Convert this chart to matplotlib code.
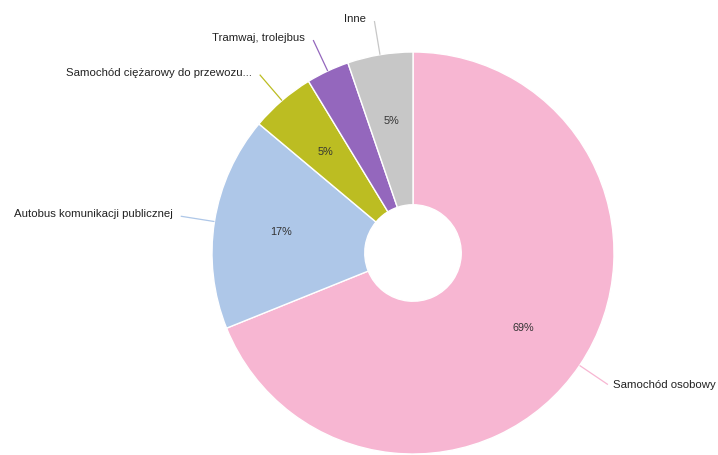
import numpy as np
import matplotlib
matplotlib.use("Agg")
import matplotlib.pyplot as plt

plt.rcParams['font.family'] = ['Liberation Sans', 'DejaVu Sans']

# Share of vehicle types (percent), clockwise from 12 o'clock
categories = [
    "Samochód osobowy",
    "Autobus komunikacji publicznej",
    "Samochód ciężarowy do przewozu...",
    "Tramwaj, trolejbus",
    "Inne",
]
values = [68.9, 17.2, 5.2, 3.45, 5.25]
colors = ["#f7b6d2", "#aec7e8", "#bcbd22", "#9467bd", "#c7c7c7"]

W, H = 718, 455
R_PX = 201.0
CX, CY = 413.0, 253.0

fig = plt.figure(figsize=(W / 100, H / 100), dpi=100)
ax = fig.add_axes([0, 0, 1, 1])


def pct_fmt(p):
    return f"{p:.0f}%" if p >= 4 else ""


wedges, _, autotexts = ax.pie(
    values,
    colors=colors,
    startangle=90,
    counterclock=False,
    radius=1.0,
    autopct=pct_fmt,
    pctdistance=0.665,
    wedgeprops=dict(width=0.76, edgecolor="white", linewidth=1.0),
    textprops=dict(fontsize=7.8, color="#333333"),
)

ax.set_aspect("auto")
ax.set_xlim(-CX / R_PX, (W - CX) / R_PX)
ax.set_ylim(-(H - CY) / R_PX, CY / R_PX)
ax.axis("off")

LABEL_FS = 8.2
LABEL_COLOR = "#222222"

# Leader lines and outer labels
for w, label in zip(wedges, categories):
    ang = np.deg2rad((w.theta1 + w.theta2) / 2)
    x0, y0 = np.cos(ang), np.sin(ang)
    x1, y1 = 1.17 * x0, 1.17 * y0
    ax.plot([x0, x1], [y0, y1], color=w.get_facecolor(), lw=0.9,
            solid_capstyle="butt")
    if x0 < 0:
        ax.text(x1 - 0.04, y1 + 0.01, label, ha="right", va="center",
                fontsize=LABEL_FS, color=LABEL_COLOR)
    else:
        ax.text(x1 + 0.025, y1, label, ha="left", va="center",
                fontsize=LABEL_FS, color=LABEL_COLOR)

fig.savefig("out.png", dpi=100, facecolor="white")
